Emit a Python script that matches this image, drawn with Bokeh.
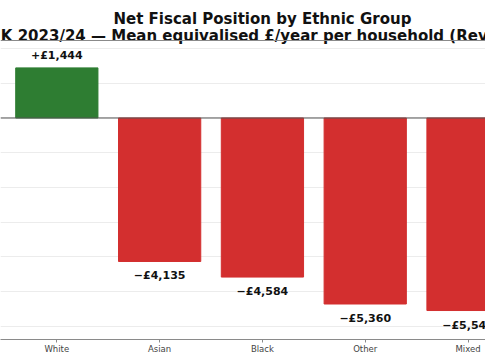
from bokeh.plotting import figure
from bokeh.models import ColumnDataSource, Range1d, Span, FixedTicker, Grid, CustomJSTickFormatter
from bokeh.core.properties import value
from bokeh.embed import file_html
from bokeh.resources import INLINE

# ---- data ----
groups = ["White", "Asian", "Black", "Other", "Mixed"]
net_position = [1444, -4135, -4584, -5360, -5548]
labels = ["+£1,444", "−£4,135", "−£4,584", "−£5,360", "−£5,548"]
title_text = "Net Fiscal Position by Ethnic Group"
subtitle_text = "UK 2023/24 — Mean equivalised £/year per household (Revenue)"
grid_ticks = [-6000, -5000, -4000, -3000, -2000, -1000, 0, 1000, 2000]

GREEN = "#2e7d32"
RED = "#d32f2f"

xs = list(range(len(groups)))
colors = [GREEN if v >= 0 else RED for v in net_position]
lab_y = net_position
lab_off = [-6 if v >= 0 else 8 for v in net_position]
lab_base = ["bottom" if v >= 0 else "top" for v in net_position]

src = ColumnDataSource(dict(x=xs, top=net_position, color=colors,
                            label=labels, ly=lab_y, loff=lab_off, lbase=lab_base))

YTOP = 3386
p = figure(frame_width=485, frame_height=339,
           x_range=Range1d(-0.548, 4.170), y_range=Range1d(-6383, YTOP),
           output_backend="svg", toolbar_location=None,
           y_axis_location=None, min_border_left=0, min_border_right=0,
           min_border_top=0, min_border_bottom=0)
p.outline_line_color = None
p.background_fill_color = "white"
p.border_fill_color = "white"
p.xgrid.visible = False
p.ygrid.visible = False

g = Grid(dimension=1, ticker=FixedTicker(ticks=grid_ticks),
         grid_line_color="#ececec", grid_line_width=1)
p.add_layout(g)

p.vbar(x="x", top="top", bottom=0, width=0.8, color="color", source=src)

# bar value labels
p.text(x="x", y="ly", text="label", source=src, y_offset="loff",
       text_align="center", text_baseline="lbase",
       text_font=value("DejaVu Sans"), text_font_style="bold",
       text_font_size="11px", text_color="#111111")

# title and subtitle (centered over axes center at x=2)
p.text(x=[2.0], y=[YTOP], text=[title_text], y_offset=18.3,
       text_align="center", text_baseline="alphabetic",
       text_font=value("DejaVu Sans"), text_font_style="bold",
       text_font_size="15px", text_color="#111111")
p.text(x=[2.0], y=[YTOP], text=[subtitle_text], y_offset=35.3,
       text_align="center", text_baseline="alphabetic",
       text_font=value("DejaVu Sans"), text_font_style="bold",
       text_font_size="15px", text_color="#111111")

# top spine and zero line
p.add_layout(Span(location=2233, dimension="width", line_color="#8a8a8a", line_width=1.2))
p.add_layout(Span(location=0, dimension="width", line_color="#555555", line_width=1.2))

# x axis
p.xaxis.ticker = FixedTicker(ticks=xs)
p.xaxis.formatter = CustomJSTickFormatter(args=dict(names=groups),
                                          code="return names[Math.round(tick)] || '';")
p.xaxis.axis_line_color = "#8a8a8a"
p.xaxis.axis_line_width = 1.2
p.xaxis.major_tick_line_color = "#8a8a8a"
p.xaxis.major_tick_out = 3
p.xaxis.major_tick_in = 0
p.xaxis.minor_tick_line_color = None
p.xaxis.major_label_standoff = 1
p.xaxis.major_label_text_font = "DejaVu Sans"
p.xaxis.major_label_text_font_size = "8.5px"
p.xaxis.major_label_text_color = "#444444"

open("out.html", "w").write(file_html(p, INLINE))
